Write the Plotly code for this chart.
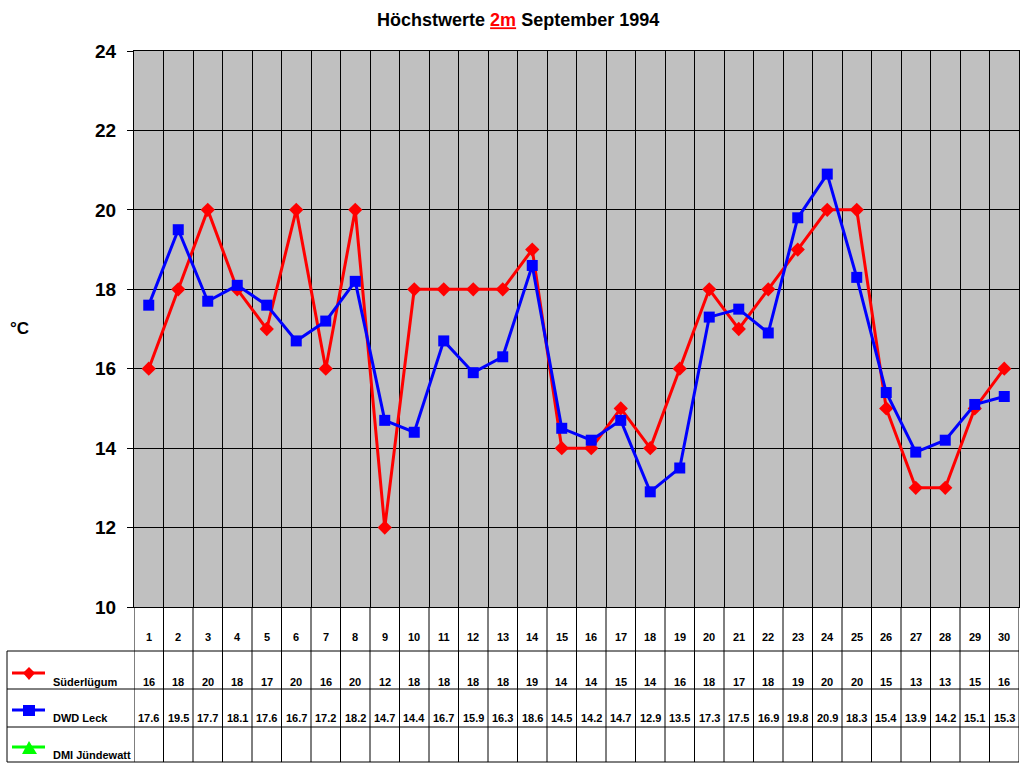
import plotly.graph_objects as go

days = list(range(1, 31))
suederluegum = [16, 18, 20, 18, 17, 20, 16, 20, 12, 18, 18, 18, 18, 19, 14,
                14, 15, 14, 16, 18, 17, 18, 19, 20, 20, 15, 13, 13, 15, 16]
dwd_leck = [17.6, 19.5, 17.7, 18.1, 17.6, 16.7, 17.2, 18.2, 14.7, 14.4, 16.7, 15.9, 16.3, 18.6, 14.5,
            14.2, 14.7, 12.9, 13.5, 17.3, 17.5, 16.9, 19.8, 20.9, 18.3, 15.4, 13.9, 14.2, 15.1, 15.3]
y_ticks = [10, 12, 14, 16, 18, 20, 22, 24]

FONT = "Liberation Sans, Arial, sans-serif"
W, H = 1024, 768
L, R, T, B = 134, 5, 51, 161


# pixel -> paper helpers for the table under the plot
def px(x):
    return (x - L) / (W - L - R)


def py(y):
    return (H - B - y) / (H - T - B)


def label(x, y, text, xref="paper", size=11, xanchor="center"):
    return dict(x=x, y=y, xref=xref, yref="paper", text=text, showarrow=False,
                xanchor=xanchor, yanchor="middle",
                font=dict(size=size, color="black", family=FONT))


fig = go.Figure()
fig.add_trace(go.Scatter(
    x=days, y=suederluegum, mode="lines+markers", name="Süderlügum",
    line=dict(color="#FF0000", width=3),
    marker=dict(symbol="diamond", size=11, color="#FF0000"),
    cliponaxis=False,
))
fig.add_trace(go.Scatter(
    x=days, y=dwd_leck, mode="lines+markers", name="DWD Leck",
    line=dict(color="#0000FF", width=3),
    marker=dict(symbol="square", size=11, color="#0000FF"),
    cliponaxis=False,
))

shapes = []
annotations = []
black = dict(color="black", width=1)

# table grid
row_lines = [651, 689, 727, 762]
for y in row_lines:
    shapes.append(dict(type="line", xref="paper", yref="paper",
                       x0=px(7), x1=px(W - R), y0=py(y), y1=py(y), line=black))
for d in [0.5] + [d + 0.5 for d in days]:
    shapes.append(dict(type="line", xref="x", yref="paper",
                       x0=d, x1=d, y0=0, y1=py(762), line=black))
shapes.append(dict(type="line", xref="paper", yref="paper",
                   x0=px(7), x1=px(7), y0=py(651), y1=py(762), line=black))

# day numbers and values
for d, s, w in zip(days, suederluegum, dwd_leck):
    annotations.append(label(d, py(637), f"<b>{d}</b>", xref="x", size=11))
    annotations.append(label(d, py(682), f"<b>{s}</b>", xref="x", size=11))
    annotations.append(label(d, py(718), f"<b>{w}</b>", xref="x", size=11))

# legend keys inside the table
legend_rows = [
    ("Süderlügum", "#FF0000", 673, 682),
    ("DWD Leck", "#0000FF", 710, 718),
    ("DMI Jündewatt", "#00FF00", 747, 755),
]
for name, col, ly, ty in legend_rows:
    shapes.append(dict(type="line", xref="paper", yref="paper",
                       x0=px(12), x1=px(45), y0=py(ly), y1=py(ly),
                       line=dict(color=col, width=3)))
    annotations.append(label(px(51), py(ty), f"<b>{name}</b>", size=11, xanchor="left"))

cx = px(29)
shapes.append(dict(type="path", xref="paper", yref="paper", fillcolor="#FF0000", line=dict(width=0),
                   path=f"M {px(23)},{py(673)} L {cx},{py(667)} L {px(35)},{py(673)} L {cx},{py(680)} Z"))
shapes.append(dict(type="rect", xref="paper", yref="paper", fillcolor="#0000FF", line=dict(width=0),
                   x0=px(23), x1=px(35), y0=py(705), y1=py(716)))
shapes.append(dict(type="path", xref="paper", yref="paper", fillcolor="#00FF00", line=dict(width=0),
                   path=f"M {px(22)},{py(754)} L {cx},{py(741)} L {px(37)},{py(754)} Z"))

annotations.append(label(px(19), py(328), "<b>°C</b>", size=17))

fig.update_layout(
    width=W, height=H,
    margin=dict(l=L, r=R, t=T, b=B),
    paper_bgcolor="white",
    plot_bgcolor="#C0C0C0",
    showlegend=False,
    font=dict(family=FONT, color="black"),
    title=dict(
        text="<b>Höchstwerte <span style='color:#FF0000'><u>2m</u></span> September 1994</b>",
        x=0.506, xanchor="center", y=1 - 20 / H, yanchor="middle",
        font=dict(size=18, color="black", family=FONT),
    ),
    xaxis=dict(
        range=[0.5, 30.5],
        tickvals=[d + 0.5 for d in days],
        showticklabels=False,
        showgrid=True, gridcolor="black", gridwidth=1,
        zeroline=False, showline=True, linecolor="black", mirror=True,
        ticks="",
    ),
    yaxis=dict(
        range=[10, 24],
        tickvals=y_ticks,
        ticktext=[f"<b>{v}</b>" for v in y_ticks],
        tickfont=dict(size=19, color="black", family=FONT),
        showgrid=True, gridcolor="black", gridwidth=1,
        zeroline=False, showline=True, linecolor="black", mirror=True,
        ticks="outside", ticklen=6, tickcolor="black",
        ticklabelstandoff=7,
    ),
    shapes=shapes,
    annotations=annotations,
)

# the page body has a default 8px margin; drop it so the figure fills the window
fig.write_html("out.html", config={"displayModeBar": False},
               post_script="document.body.style.margin='0px';")
